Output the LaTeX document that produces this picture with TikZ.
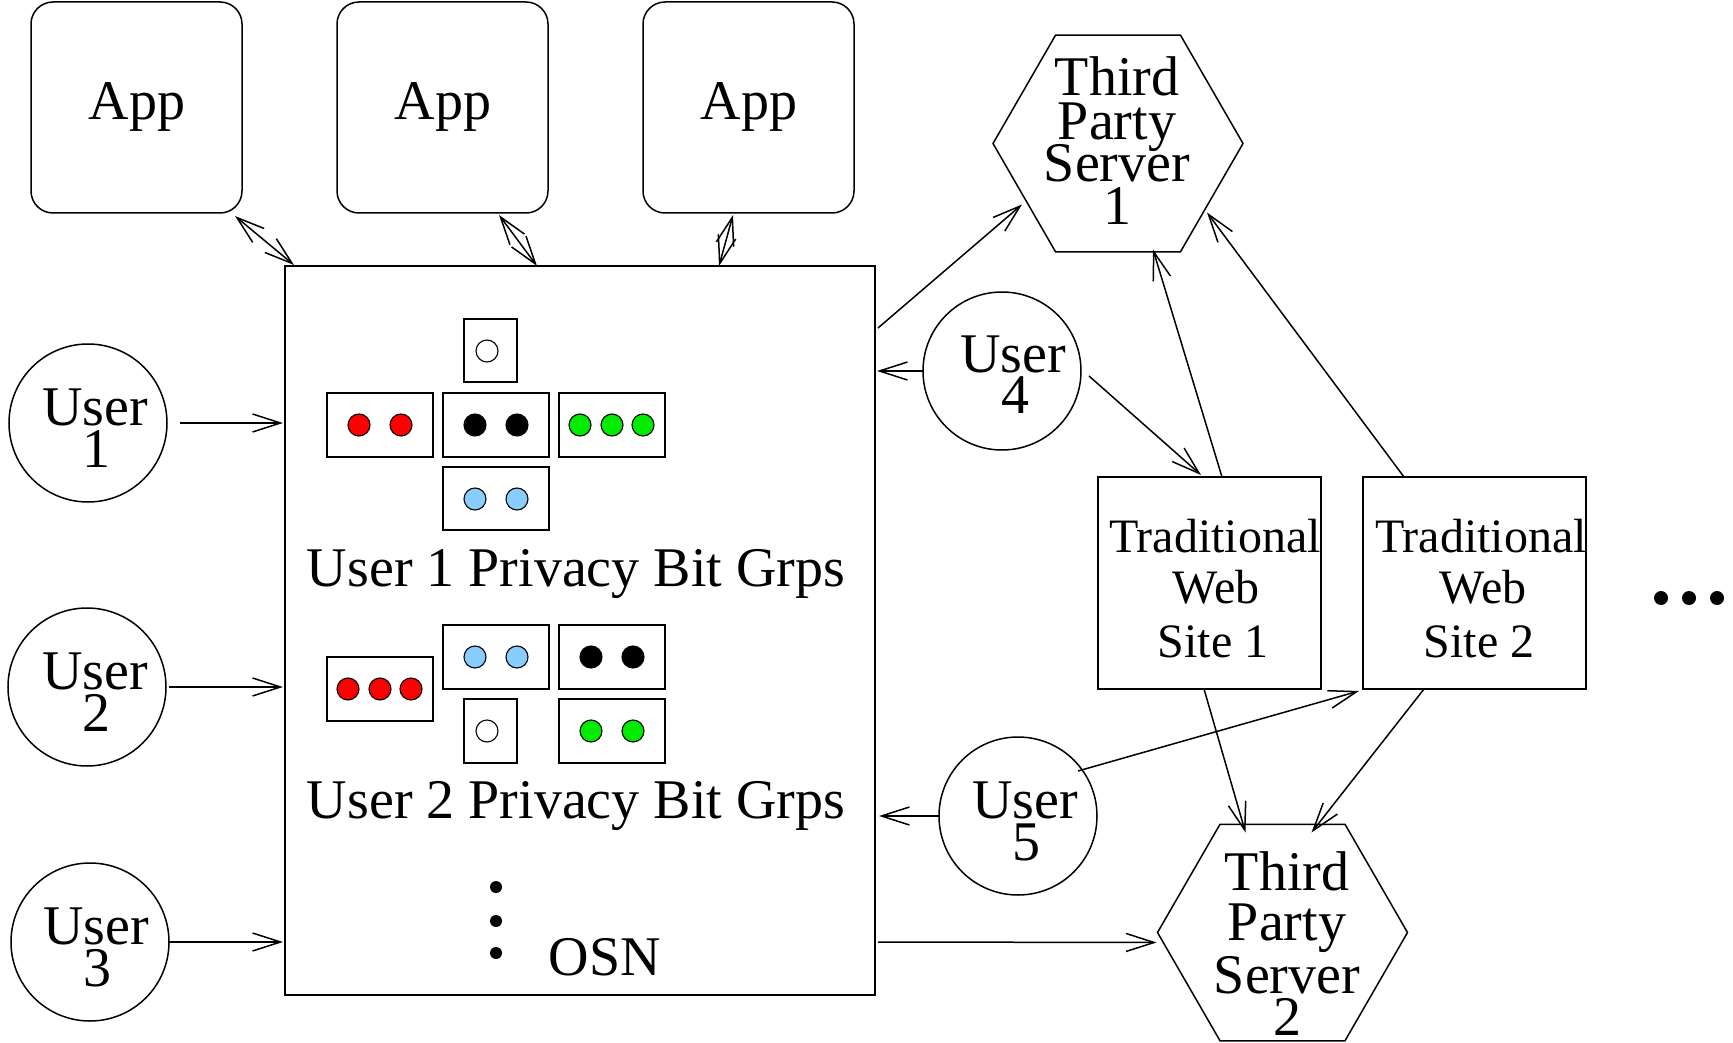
\documentclass[tikz,border=0pt]{standalone}
\usepackage{fontspec}
\setmainfont{Liberation Serif}
\usetikzlibrary{arrows.meta,shapes.geometric,calc}
\definecolor{bitred}{RGB}{255,0,0}
\definecolor{bitgreen}{RGB}{0,235,0}
\definecolor{bitblue}{RGB}{135,206,255}
\newcommand\bigfont{\fontsize{56}{56}\selectfont}
\newcommand\sitefont{\fontsize{48}{48}\selectfont}
\begin{document}
\begin{tikzpicture}[x=1pt,y=-1pt,line width=1.5pt,
  barb/.tip={Straight Barb[length=28pt,width=18pt]},
  arr/.style={-barb},
  dbl/.style={barb-barb},
  appbox/.style={draw,rectangle,rounded corners=22pt,minimum width=211pt,minimum height=211pt,inner sep=0pt,outer sep=0pt},
  userc/.style={draw,circle,minimum size=158pt,inner sep=0pt,outer sep=0pt},
  hexa/.style={draw,regular polygon,regular polygon sides=6,minimum size=250pt,inner sep=0pt,outer sep=0pt},
  sitebox/.style={draw,rectangle,minimum width=223pt,minimum height=212pt,inner sep=0pt,outer sep=0pt},
  bitbox/.style={draw,rectangle,minimum width=106pt,minimum height=64pt,inner sep=0pt,outer sep=0pt},
  onebox/.style={draw,rectangle,minimum width=53pt,minimum height=63pt,inner sep=0pt,outer sep=0pt},
  bit/.style={draw,circle,minimum size=22pt,inner sep=0pt,line width=1.1pt},
  lbl/.style={anchor=base,inner sep=0pt,font=\bigfont},
  slbl/.style={anchor=base,inner sep=0pt,font=\sitefont},
  bigdot/.style={fill,circle,inner sep=0pt,minimum size=#1}
]
\useasboundingbox (0,0) rectangle (1733,1043);

% Apps
\node[appbox] (app1) at (136.5,107.5) {};
\node[appbox] (app2) at (442.5,107.5) {};
\node[appbox] (app3) at (748.5,107.5) {};
\node[lbl] (app1t) at (137,120) {App};
\node[lbl] (app2t) at (443,120) {App};
\node[lbl] (app3t) at (749,120) {App};

% OSN
\node[draw,rectangle,minimum width=590pt,minimum height=729pt,inner sep=0pt,outer sep=0pt] (osn) at (580,630.5) {};

% User 1 bit groups
\node[onebox] (b1w) at (490.5,350.5) {};
\node[bitbox] (b1r) at (380,425) {};
\node[bitbox] (b1k) at (496,425) {};
\node[bitbox] (b1g) at (612,425) {};
\node[bitbox,minimum height=63pt] (b1b) at (496,498.5) {};
\node[bit,fill=white] (c1w) at (487,351) {};
\node[bit,fill=bitred] (c1r1) at (359,425) {};
\node[bit,fill=bitred] (c1r2) at (401,425) {};
\node[bit,fill=black] (c1k1) at (475,425) {};
\node[bit,fill=black] (c1k2) at (517,425) {};
\node[bit,fill=bitgreen] (c1g1) at (580,425) {};
\node[bit,fill=bitgreen] (c1g2) at (612,425) {};
\node[bit,fill=bitgreen] (c1g3) at (643,425) {};
\node[bit,fill=bitblue] (c1b1) at (475,499) {};
\node[bit,fill=bitblue] (c1b2) at (517,499) {};
\node[lbl] (p1) at (576,586) {User 1 Privacy Bit Grps};

% User 2 bit groups
\node[bitbox] (b2r) at (380,689) {};
\node[bitbox] (b2b) at (496,657) {};
\node[bitbox] (b2k) at (612,657) {};
\node[onebox,minimum height=64pt] (b2w) at (490.5,731) {};
\node[bitbox] (b2g) at (612,731) {};
\node[bit,fill=bitred] (c2r1) at (348,689) {};
\node[bit,fill=bitred] (c2r2) at (380,689) {};
\node[bit,fill=bitred] (c2r3) at (411,689) {};
\node[bit,fill=bitblue] (c2b1) at (475,657) {};
\node[bit,fill=bitblue] (c2b2) at (517,657) {};
\node[bit,fill=black] (c2k1) at (591,657) {};
\node[bit,fill=black] (c2k2) at (633,657) {};
\node[bit,fill=white] (c2w) at (487,731) {};
\node[bit,fill=bitgreen] (c2g1) at (591,731) {};
\node[bit,fill=bitgreen] (c2g2) at (633,731) {};
\node[lbl] (p2) at (576,818) {User 2 Privacy Bit Grps};

\node[bigdot=12pt] (vd1) at (496,887) {};
\node[bigdot=12pt] (vd2) at (496,921) {};
\node[bigdot=12pt] (vd3) at (496,953) {};
\node[lbl] (osnt) at (605,975) {OSN};

% Users
\node[userc] (u1) at (88,423) {};
\node[userc] (u2) at (87,687) {};
\node[userc] (u3) at (90,942) {};
\node[userc] (u4) at (1002,371) {};
\node[userc] (u5) at (1018,816) {};
\node[lbl] (u1a) at (95,425) {User};
\node[lbl] (u1b) at (96,467) {1};
\node[lbl] (u2a) at (95,689) {User};
\node[lbl] (u2b) at (96,731) {2};
\node[lbl] (u3a) at (96,944) {User};
\node[lbl] (u3b) at (97,986) {3};
\node[lbl] (u4a) at (1013,372) {User};
\node[lbl] (u4b) at (1015,413) {4};
\node[lbl] (u5a) at (1025,818) {User};
\node[lbl] (u5b) at (1026,860) {5};

% Third party servers
\node[hexa] (tps1) at (1118,143.5) {};
\node[hexa] (tps2) at (1282.5,932.5) {};
\node[lbl] (t1a) at (1117,96) {Third};
\node[lbl] (t1b) at (1117,140) {Party};
\node[lbl] (t1c) at (1117,182) {Server};
\node[lbl] (t1d) at (1117,225) {1};
\node[lbl] (t2a) at (1287,890) {Third};
\node[lbl] (t2b) at (1287,940) {Party};
\node[lbl] (t2c) at (1287,993) {Server};
\node[lbl] (t2d) at (1287,1035) {2};

% Traditional web sites
\node[sitebox] (site1) at (1209.5,583) {};
\node[sitebox] (site2) at (1474.5,583) {};
\node[slbl] (s1a) at (1215,552) {Traditional};
\node[slbl] (s1b) at (1216,603) {Web};
\node[slbl] (s1c) at (1213,657) {Site 1};
\node[slbl] (s2a) at (1481,552) {Traditional};
\node[slbl] (s2b) at (1483,603) {Web};
\node[slbl] (s2c) at (1479,657) {Site 2};

\node[bigdot=14pt] (hd1) at (1661,598) {};
\node[bigdot=14pt] (hd2) at (1689,598) {};
\node[bigdot=14pt] (hd3) at (1717,598) {};

% Connectors
\draw[dbl] ($(app1.south east)+(-7,3)$) -- ($(osn.north west)+(9,-1)$);
\draw[dbl] ($(app2.south)+(56.5,2)$) -- ($(osn.north west)+(252,0)$);
\draw[dbl] ($(app3.south)+(-15.5,2)$) -- ($(osn.north west)+(434,0)$);

\draw[arr,shorten <=13pt,shorten >=2pt] (u1.east) -- (u1.east -| osn.west);
\draw[arr,shorten <=3pt,shorten >=2pt] (u2.east) -- (u2.east -| osn.west);
\draw[arr,shorten >=2pt] (u3.east) -- (u3.east -| osn.west);
\draw[arr,shorten >=2pt] (u4.west) -- (u4.west -| osn.east);
\draw[arr,shorten >=4pt] (u5.west) -- (u5.west -| osn.east);

\draw[arr] ($(osn.north east)+(3,62)$) -- ($(tps1.center)+(-96,61)$);
\draw[arr] ($(u4.center)+(87,5)$) -- ($(site1.north)+(-8.5,-2)$);
\draw[arr] ($(site1.north)+(12.5,0)$) -- ($(tps1.center)+(35,106)$);
\draw[arr] ($(site2.north)+(-70.5,0)$) -- ($(tps1.center)+(89,69)$);
\draw[arr] ($(site1.south)+(-5.5,0)$) -- ($(tps2.center)+(-37,-100)$);
\draw[arr] ($(site2.south)+(-50.5,0)$) -- ($(tps2.center)+(29,-100)$);
\draw[arr] ($(u5.center)+(60,-45)$) -- ($(site2.south west)+(-4,2)$);
\draw[arr] ($(osn.south east)+(3,-53)$) -- ($(tps2.center)+(-126,10)$);
\end{tikzpicture}
\end{document}
